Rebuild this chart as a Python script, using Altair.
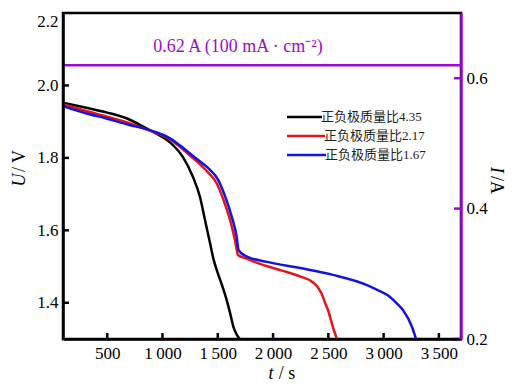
import altair as alt
import pandas as pd

series = ["正负极质量比4.35", "正负极质量比2.17", "正负极质量比1.67"]
colors = ["#000000", "#E3141B", "#1414DC"]

t_435 = [100, 300, 500, 700, 850, 950, 1068, 1185, 1276, 1339, 1384, 1430, 1460, 1500, 1540, 1580, 1611, 1640, 1675, 1705]
u_435 = [1.952, 1.939, 1.925, 1.906, 1.882, 1.866, 1.843, 1.802, 1.747, 1.692, 1.629, 1.565, 1.522, 1.482, 1.447, 1.408, 1.372, 1.335, 1.31, 1.298]

t_217 = [100, 300, 500, 700, 850, 950, 1068, 1160, 1249, 1340, 1412, 1490, 1547, 1611, 1656, 1683, 1760, 1855, 2090, 2250, 2334, 2400, 2440, 2470, 2497, 2530, 2555, 2580]
u_217 = [1.948, 1.930, 1.914, 1.896, 1.879, 1.868, 1.851, 1.830, 1.806, 1.782, 1.760, 1.730, 1.688, 1.629, 1.573, 1.532, 1.522, 1.510, 1.488, 1.472, 1.462, 1.445, 1.425, 1.400, 1.380, 1.345, 1.320, 1.298]

t_167 = [100, 300, 500, 700, 850, 950, 1068, 1160, 1249, 1340, 1430, 1502, 1565, 1626, 1671, 1688, 1760, 1945, 2244, 2543, 2850, 2960, 3058, 3121, 3175, 3257, 3295]
u_167 = [1.943, 1.924, 1.908, 1.891, 1.880, 1.870, 1.854, 1.834, 1.812, 1.790, 1.767, 1.740, 1.695, 1.638, 1.582, 1.545, 1.528, 1.513, 1.496, 1.477, 1.449, 1.433, 1.416, 1.398, 1.380, 1.333, 1.298]

x_ticks = [500, 1000, 1500, 2000, 2500, 3000, 3500]
u_ticks = [1.4, 1.6, 1.8, 2.0, 2.2]
i_ticks = [0.2, 0.4, 0.6]
current = [0.62]
note = "0.62 A (100 mA · cm⁻²)"

rows = []
for name, ts, us in zip(series, [t_435, t_217, t_167], [u_435, u_217, u_167]):
    for t, u in zip(ts, us):
        rows.append({"series": name, "t": t, "U": u})
df = pd.DataFrame(rows)

FONT = "Liberation Serif, Noto Sans CJK SC"
PURPLE = "#9E0ACB"

xscale = alt.Scale(domain=[100, 3700], nice=False, zero=False)
uscale = alt.Scale(domain=[1.3, 2.2], nice=False, zero=False)
iscale = alt.Scale(domain=[0.2, 0.7], nice=False, zero=False)

xaxis = alt.Axis(values=x_ticks, labelExpr="replace(format(datum.value, ','), ',', '\u2009')",
                 ticks=False, grid=False, domainColor="black", domainWidth=2.5,
                 labelFont=FONT, labelFontSize=17, labelColor="black", labelPadding=6,
                 title=None, zindex=1)
uaxis = alt.Axis(values=u_ticks, format=".1f", ticks=False, grid=False, domainColor="black",
                 domainWidth=2.5, labelFont=FONT, labelFontSize=17, labelColor="black",
                 labelPadding=5, labelFlush=True, title=None, zindex=1)
iaxis = alt.Axis(values=i_ticks, format=".1f", orient="right", ticks=False, grid=False,
                 domainColor=PURPLE, domainWidth=2.5, labelFont=FONT, labelFontSize=17,
                 labelColor="black", labelPadding=5, title=None, zindex=1)

lines = alt.Chart(df).mark_line(strokeWidth=2.5, clip=True, interpolate="monotone").encode(
    x=alt.X("t:Q", scale=xscale, axis=xaxis),
    y=alt.Y("U:Q", scale=uscale, axis=uaxis),
    color=alt.Color("series:N", scale=alt.Scale(domain=series, range=colors), legend=None),
)

lticks = alt.Chart(pd.DataFrame({"U": u_ticks[:-1]})).mark_rule(color="black", strokeWidth=2.5).encode(
    y=alt.Y("U:Q", scale=uscale, axis=uaxis), x=alt.value(0), x2=alt.value(6))
bticks = alt.Chart(pd.DataFrame({"t": x_ticks})).mark_rule(color="black", strokeWidth=2.5).encode(
    x=alt.X("t:Q", scale=xscale, axis=xaxis), y=alt.value(326), y2=alt.value(320))

one = pd.DataFrame({"a": [0]})
texts = []
# legend
leg_y = [104, 123, 142]
leg_x2 = [259, 262, 263]
for name, col, yy, x2 in zip(series, colors, leg_y, leg_x2):
    texts.append(alt.Chart(one).mark_rule(color=col, strokeWidth=2.5).encode(
        x=alt.value(224), x2=alt.value(x2), y=alt.value(yy)))
    texts.append(alt.Chart(one).mark_text(text=name, font=FONT, fontSize=13, color="#222222",
                                          align="left", baseline="middle").encode(
        x=alt.value(x2 - 1), y=alt.value(yy)))

# annotation
texts.append(alt.Chart(one).mark_text(text=note, font=FONT, fontSize=18, color=PURPLE,
                                      align="center", baseline="middle").encode(
    x=alt.value(175), y=alt.value(34)))

# axis titles
def t_(txt, x, y, italic=False, angle=0):
    return alt.Chart(one).mark_text(text=txt, font=FONT, fontSize=18, color="black",
                                    fontStyle="italic" if italic else "normal",
                                    angle=angle, align="center", baseline="middle").encode(
        x=alt.value(x), y=alt.value(y))

texts += [
    t_("t", 208, 361, True), t_("/ s", 224, 361),
    t_("U", -43, 167, True, 270), t_("/ V", -43, 148, False, 270),
    t_("I", 433, 157, True, 90), t_("/A", 433, 172, False, 90),
]

left = alt.layer(lines, lticks, bticks, *texts)

rule = alt.Chart(pd.DataFrame({"I": current})).mark_rule(color=PURPLE, strokeWidth=2.5).encode(
    y=alt.Y("I:Q", scale=iscale, axis=iaxis))
rticks = alt.Chart(pd.DataFrame({"I": i_ticks})).mark_rule(color=PURPLE, strokeWidth=2.5).encode(
    y=alt.Y("I:Q", scale=iscale, axis=iaxis), x=alt.value(391), x2=alt.value(398))
right = alt.layer(rule, rticks)

chart = alt.layer(left, right).resolve_scale(y="independent").properties(
    width=398, height=326,
    padding={"left": 55, "top": 5, "right": 45, "bottom": 45},
    autosize=alt.AutoSizeParams(type="none"),
).configure_view(stroke="black", strokeWidth=2.5)

chart.save("out.html", embed_options={"renderer": "svg", "actions": False})
